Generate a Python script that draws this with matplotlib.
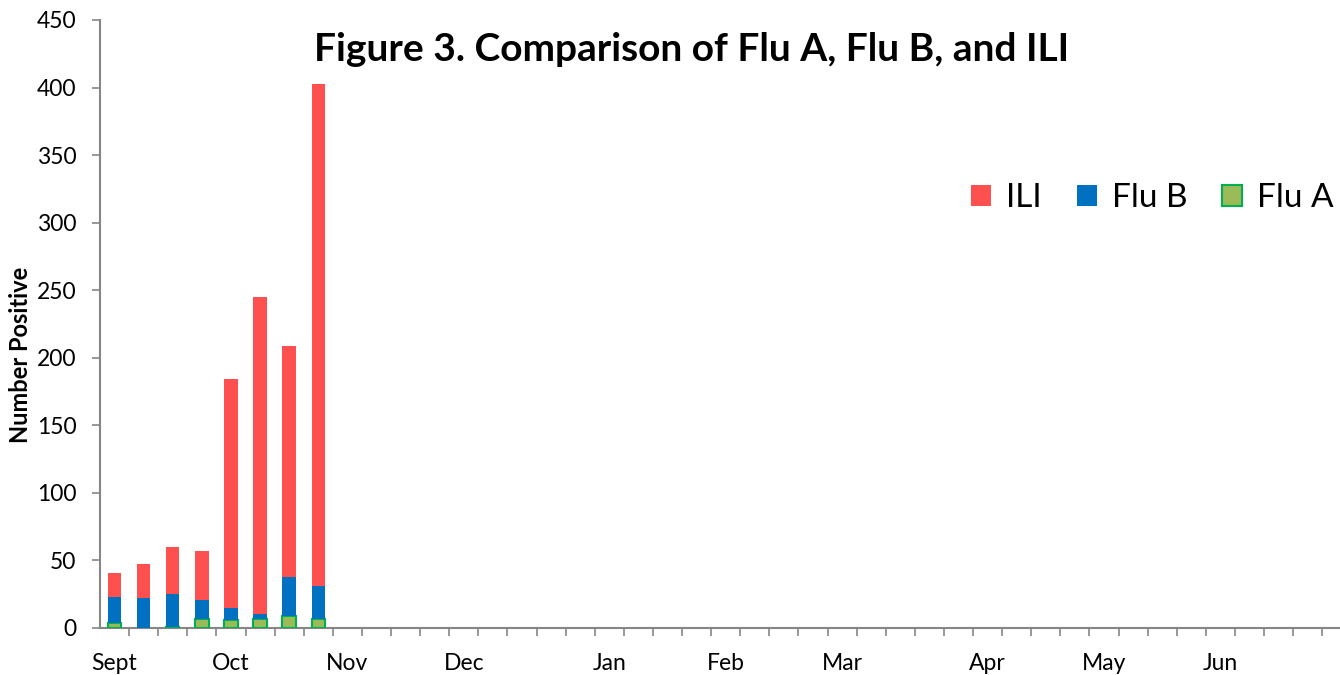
import numpy as np
import matplotlib
matplotlib.use('Agg')
import matplotlib.pyplot as plt
from matplotlib.patches import Patch

plt.rcParams['font.family'] = ['Lato', 'DejaVu Sans']

# weekly categories, month names mark the first week of each month
week_labels = ['Sept', '', '', '', 'Oct', '', '', '', 'Nov', '', '', '',
               'Dec', '', '', '', '', 'Jan', '', '', '', 'Feb', '', '', '',
               'Mar', '', '', '', '', 'Apr', '', '', '', 'May', '', '', '',
               'Jun', '', '', '', '']
flu_a = [4, 0, 1, 7, 6, 7, 9, 7]
flu_b = [19, 22, 24, 14, 9, 3, 29, 24]
ili = [18, 25, 35, 36, 169, 235, 171, 372]

c_ili = '#FF5050'
c_flub = '#0070C0'
c_flua = '#9BBB59'
c_flua_edge = '#00B050'
axis_grey = '#868686'

fig = plt.figure(figsize=(13.4, 6.75), dpi=100)
ax = fig.add_axes([100 / 1340, 47 / 675, 1240 / 1340, 608 / 675])

x = np.arange(len(ili))
w = 0.46
a = np.array(flu_a)
b = np.array(flu_b)
ax.bar(x, a, width=w, color=c_flua, edgecolor=c_flua_edge, linewidth=1.5, zorder=3)
ax.bar(x, b, width=w, bottom=a, color=c_flub, linewidth=0, zorder=3)
ax.bar(x, ili, width=w, bottom=a + b, color=c_ili, linewidth=0, zorder=3)

n = len(week_labels)
ax.set_xlim(-0.5, -0.5 + 1240 / 29.1)
ax.set_ylim(0, 450)
ax.set_yticks(np.arange(0, 451, 50))
ax.tick_params(axis='y', direction='out', length=6, color=axis_grey,
               width=1.2, labelsize=16.5, pad=11)

ax.set_xticks(np.arange(n - 1) + 0.5)
ax.set_xticklabels([])
ax.set_xticks(np.arange(n), minor=True)
ax.set_xticklabels(week_labels, minor=True)
ax.tick_params(axis='x', which='major', direction='out', length=6,
               color=axis_grey, width=1.2)
ax.tick_params(axis='x', which='minor', length=0, labelsize=16.5, pad=18)

for s in ['top', 'right']:
    ax.spines[s].set_visible(False)
for s in ['left', 'bottom']:
    ax.spines[s].set_color(axis_grey)
    ax.spines[s].set_linewidth(1.5)

ax.set_ylabel('Number Positive', fontsize=17, fontweight='bold')
ax.yaxis.set_label_coords(-68 / 1240, 0.45)

fig.text(0.516, 0.927, 'Figure 3. Comparison of Flu A, Flu B, and ILI',
         ha='center', va='center', fontsize=28, fontweight='bold')

handles = [Patch(facecolor=c_ili, edgecolor='none'),
           Patch(facecolor=c_flub, edgecolor='none'),
           Patch(facecolor=c_flua, edgecolor=c_flua_edge, linewidth=1.5)]
fig.legend(handles, ['ILI', 'Flu B', 'Flu A'], ncol=3, frameon=False,
           loc='center right', bbox_to_anchor=(1.013, 1 - 198 / 675),
           fontsize=24, handlelength=0.6, handleheight=0.6,
           handletextpad=0.45, columnspacing=1.05, borderpad=0.2)

fig.savefig('out.png', dpi=100)
